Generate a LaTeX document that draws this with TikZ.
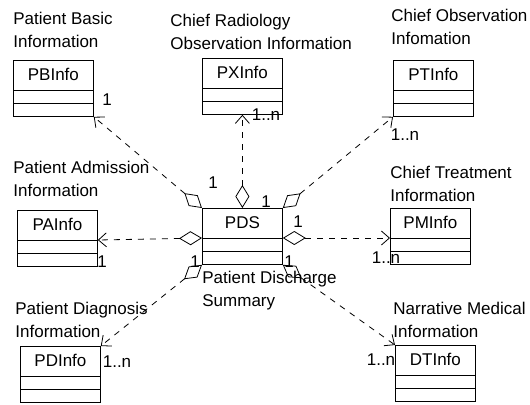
\documentclass[tikz,border=0pt]{standalone}
\usepackage{fontspec}
\setmainfont{Liberation Sans}
\usetikzlibrary{arrows.meta}
\tikzset{
    lbl/.style={font=\fontsize{8.5}{11.5}\selectfont, align=left, anchor=north west, inner sep=0pt},
    classbox/.style={draw, minimum width=40pt, inner sep=0pt, text height=10pt, text depth=18pt,
        anchor=north west, font=\fontsize{8.5}{11.5}\selectfont,
        path picture={
            \draw ([yshift=-15pt]path picture bounding box.north west) -- ([yshift=-15pt]path picture bounding box.north east);
            \draw ([yshift=-21.5pt]path picture bounding box.north west) -- ([yshift=-21.5pt]path picture bounding box.north east);
        }},
    mult/.style={font=\fontsize{8.5}{11.5}\selectfont, inner sep=0pt},
    assoc/.style={dashed, {Diamond[open,length=11.5pt,width=7pt]}-{Straight Barb[length=4pt,width=7pt]}},
}
\begin{document}
\begin{tikzpicture}[x=0.5pt, y=-0.5pt]
    \useasboundingbox (0,0) rectangle (530,404);
    % titles
    \node[lbl] (tpb) at (13,12) {Patient Basic\\Information};
    \node[lbl] (tpx) at (170,14) {Chief Radiology\\Observation Information};
    \node[lbl] (tpt) at (391,9) {Chief Observation\\Infomation};
    \node[lbl] (tpa) at (13,161) {Patient Admission\\Information};
    \node[lbl] (tpm) at (390,166) {Chief Treatment\\Information};
    \node[lbl] (tpds) at (202,271) {Patient Discharge\\Summary};
    \node[lbl] (tpd) at (15,302) {Patient Diagnosis\\Information};
    \node[lbl] (tdt) at (393,302) {Narrative Medical\\Information};
    % classes
    \node[classbox] (pb) at (13,60) {PBInfo};
    \node[classbox] (px) at (202,58) {PXInfo};
    \node[classbox] (pt) at (393,60) {PTInfo};
    \node[classbox] (pa) at (17,210) {PAInfo};
    \node[classbox] (pds) at (202,208) {PDS};
    \node[classbox] (pm) at (390,208) {PMInfo};
    \node[classbox] (pd) at (20,346) {PDInfo};
    \node[classbox] (dt) at (395,345) {DTInfo};
    % associations
    \draw[assoc] (pds.north west) -- (pb.south east);
    \draw[assoc] (pds.north) -- (px.south);
    \draw[assoc] (pds.north east) -- (pt.south west);
    \draw[assoc] ([yshift=-15pt]pds.north west) -- ([yshift=-15pt]pa.north east);
    \draw[assoc] ([yshift=-15pt]pds.north east) -- ([yshift=-15pt]pm.north west);
    \draw[assoc] (pds.south west) -- (pd.north east);
    \draw[assoc] (pds.south east) -- (dt.north west);
    % multiplicities
    \node[mult] (m1) at (213,183) {1};
    \node[mult] (m2) at (107,100) {1};
    \node[mult] (m3) at (266,115) {1..n};
    \node[mult] (m4) at (266,202) {1};
    \node[mult] (m5) at (405,135) {1..n};
    \node[mult] (m6) at (102,262) {1};
    \node[mult] (m7) at (298,222) {1};
    \node[mult] (m8) at (386,258) {1..n};
    \node[mult] (m9) at (195,262) {1};
    \node[mult] (m10) at (117,362) {1..n};
    \node[mult] (m11) at (289,262) {1};
    \node[mult] (m12) at (381,360) {1..n};
\end{tikzpicture}
\end{document}
